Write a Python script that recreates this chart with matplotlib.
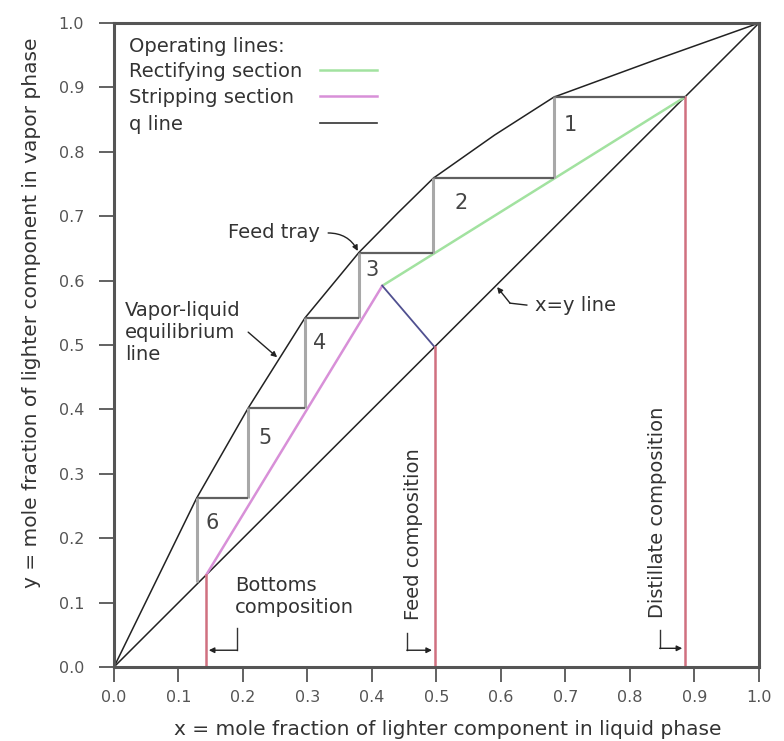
import numpy as np
import matplotlib
matplotlib.use('Agg')
import matplotlib.pyplot as plt

# equilibrium curve
eq_x = [0.0, 0.128, 0.208, 0.296, 0.38, 0.44, 0.495, 0.59, 0.682, 0.84, 1.0]
eq_y = [0.0, 0.262, 0.402, 0.542, 0.644, 0.705, 0.759, 0.826, 0.885, 0.943, 1.0]

# compositions
x_bottoms = 0.143
x_feed = 0.497
x_dist = 0.885
# intersection of operating lines with q line
x_int = 0.416
y_int = 0.592

# stair steps (corners), starting at distillate
step_x = [0.885, 0.682, 0.682, 0.495, 0.495, 0.38, 0.38, 0.296, 0.296, 0.208, 0.208, 0.128, 0.128]
step_y = [0.885, 0.885, 0.759, 0.759, 0.643, 0.643, 0.542, 0.542, 0.402, 0.402, 0.262, 0.262, 0.132]
stage_labels = ['1', '2', '3', '4', '5', '6']
stage_pos = [(0.707, 0.842), (0.538, 0.72), (0.40, 0.616), (0.319, 0.503), (0.234, 0.356), (0.152, 0.224)]

fig = plt.figure(figsize=(7.84, 7.41), dpi=100)
ax = fig.add_axes([0.1454, 0.0999, 0.8227, 0.869])
ax.set_xlim(0, 1)
ax.set_ylim(0, 1)

grey = '#555555'
txt = '#333333'
# diagonal and equilibrium line
ax.plot([0, 1], [0, 1], color='#222222', lw=1.1)
ax.plot(eq_x, eq_y, color='#222222', lw=1.1)

# operating lines
ax.plot([x_int, x_dist], [y_int, x_dist], color='#a2e2a0', lw=1.8)
ax.plot([x_bottoms, x_int], [x_bottoms, y_int], color='#d890d8', lw=1.8)
ax.plot([x_feed, x_int], [x_feed, y_int], color='#505090', lw=1.3)

# composition lines
for xc, yc in [(x_bottoms, x_bottoms), (x_feed, x_feed), (x_dist, x_dist)]:
    ax.plot([xc, xc], [0, yc], color='#d07080', lw=1.8)

# steps: horizontals dark, verticals lighter
for i in range(len(step_x) - 1):
    horiz = step_y[i] == step_y[i + 1]
    ax.plot(step_x[i:i + 2], step_y[i:i + 2],
            color='#606060' if horiz else '#a8a8a8',
            lw=1.6 if horiz else 2.2, solid_capstyle='butt')

for lab, (px, py) in zip(stage_labels, stage_pos):
    ax.text(px, py, lab, fontsize=15, color='#444444', ha='center', va='center')

# legend-like text block
tfs = 14
ax.text(0.023, 0.963, 'Operating lines:', fontsize=tfs, color=txt, va='center')
ax.text(0.023, 0.924, 'Rectifying section', fontsize=tfs, color=txt, va='center')
ax.text(0.023, 0.884, 'Stripping section', fontsize=tfs, color=txt, va='center')
ax.text(0.023, 0.843, 'q line', fontsize=tfs, color=txt, va='center')
ax.plot([0.319, 0.408], [0.927, 0.927], color='#a2e2a0', lw=1.8)
ax.plot([0.319, 0.408], [0.886, 0.886], color='#d890d8', lw=1.8)
ax.plot([0.319, 0.408], [0.845, 0.845], color='#333333', lw=1.2)

arw = dict(arrowstyle='-|>', color='#222222', lw=1.0, mutation_scale=8, shrinkA=0, shrinkB=0)
ax.text(0.177, 0.674, 'Feed tray', fontsize=tfs, color=txt, va='center')
ax.annotate('', xy=(0.378, 0.646), xytext=(0.332, 0.674),
            arrowprops=dict(arw, connectionstyle='arc3,rad=-0.3'))

ax.text(0.017, 0.52, 'Vapor-liquid\nequilibrium\nline', fontsize=tfs, color=txt,
        va='center', linespacing=1.2)
ax.annotate('', xy=(0.253, 0.481), xytext=(0.208, 0.52), arrowprops=arw)

ax.text(0.653, 0.562, 'x=y line', fontsize=tfs, color=txt, va='center')
ax.plot([0.64, 0.614], [0.562, 0.565], color='#222222', lw=1.0)
ax.annotate('', xy=(0.594, 0.59), xytext=(0.614, 0.565), arrowprops=arw)

# composition labels with bracket arrows
ax.text(0.188, 0.110, 'Bottoms\ncomposition', fontsize=tfs, color=txt,
        va='center', ha='left', linespacing=1.2)
ax.plot([0.191, 0.191], [0.061, 0.026], color='#333333', lw=1.0)
ax.annotate('', xy=(x_bottoms + 0.004, 0.026), xytext=(0.191, 0.026), arrowprops=arw)

ax.text(0.464, 0.073, 'Feed composition', fontsize=tfs, color=txt,
        rotation=90, va='bottom', ha='center')
ax.plot([0.454, 0.454], [0.053, 0.026], color='#333333', lw=1.0)
ax.annotate('', xy=(x_feed - 0.004, 0.026), xytext=(0.454, 0.026), arrowprops=arw)

ax.text(0.843, 0.076, 'Distillate composition', fontsize=tfs, color=txt,
        rotation=90, va='bottom', ha='center')
ax.plot([0.846, 0.846], [0.057, 0.029], color='#333333', lw=1.0)
ax.annotate('', xy=(x_dist - 0.004, 0.029), xytext=(0.846, 0.029), arrowprops=arw)

# axes styling
ticks = np.round(np.arange(0, 1.01, 0.1), 1)
ax.set_xticks(ticks)
ax.set_yticks(ticks)
ax.set_xticklabels(['%.1f' % t for t in ticks])
ax.set_yticklabels(['%.1f' % t for t in ticks])
ax.tick_params(direction='out', length=10.5, width=1.3, color=grey, labelcolor=grey,
               labelsize=11.5, top=False, right=False)
ax.tick_params(axis='x', pad=6)
ax.tick_params(axis='y', pad=11)
for s in ax.spines.values():
    s.set_color(grey)
    s.set_linewidth(2.2)

ax.set_xlabel('x = mole fraction of lighter component in liquid phase', fontsize=14.5, color=txt, labelpad=3)
ax.xaxis.set_label_coords(0.518, -0.083)
ax.set_ylabel('y = mole fraction of lighter component in vapor phase', fontsize=14.5, color=txt)
ax.yaxis.set_label_coords(-0.113, 0.55)

fig.savefig('out.png', dpi=100)
